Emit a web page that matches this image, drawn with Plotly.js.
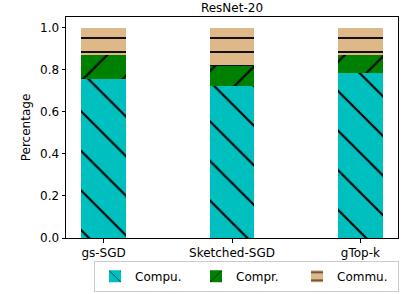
<!DOCTYPE html>
<html><head><meta charset="utf-8">
<script src="https://cdn.plot.ly/plotly-3.0.1.min.js"></script>
<style>html,body{margin:0;padding:0;background:#fff}#c{width:415px;height:294px}</style>
</head><body><div id="c"></div>
<script>
var methods = ["gs-SGD", "Sketched-SGD", "gTop-k"];
var compu = [0.757, 0.722, 0.786];
var compr = [0.114, 0.096, 0.084];
var commu = [0.129, 0.182, 0.130];
var seriesNames = ["Compu.", "Compr.", "Commu."];
var yTicks = [0, 0.2, 0.4, 0.6, 0.8, 1.0];

var font = {family: "DejaVu Sans", size: 12, color: "#000"};
function bar(name, vals, color, shape, size, sol) {
  return {
    type: "bar", name: name, x: methods, y: vals, width: 0.35,
    marker: {color: color, line: {width: 0},
      pattern: {shape: shape, fgcolor: "#000", fgopacity: 1, bgcolor: color, size: size, solidity: sol, fillmode: "overlay"}}
  };
}
var data = [
  bar(seriesNames[0], compu, "#00BFBF", "\\", 28, 0.075),
  bar(seriesNames[1], compr, "#008000", "/", 28, 0.075),
  bar(seriesNames[2], commu, "#DEB887", "-", 14, 0.13)
];
var layout = {
  width: 415, height: 294, barmode: "stack",
  margin: {l: 66, r: 17, t: 17, b: 56, autoexpand: false},
  paper_bgcolor: "#fff", plot_bgcolor: "#fff",
  font: font,
  title: {text: "ResNet-20", font: {family: "DejaVu Sans", size: 12, color: "#000"}, x: 0.5, xref: "paper", y: 0.972, yref: "container", yanchor: "middle"},
  xaxis: {range: [-0.2925, 2.2925], showline: true, mirror: true, linecolor: "#000", linewidth: 1,
    ticks: "outside", ticklen: 3.5, tickcolor: "#000", showgrid: false, zeroline: false, tickfont: font},
  yaxis: {range: [0, 1.05], showline: true, mirror: true, linecolor: "#000", linewidth: 1,
    ticks: "outside", ticklen: 3.5, tickcolor: "#000", showgrid: false, zeroline: false,
    tickvals: yTicks, tickformat: ".1f", tickfont: font,
    title: {text: "Percentage", font: font, standoff: 6}},
  showlegend: true,
  legend: {orientation: "h", xref: "container", yref: "container", x: 0.594, xanchor: "center", y: 0.06, yanchor: "middle",
    entrywidth: 56, entrywidthmode: "pixels",
    bordercolor: "#ccc", borderwidth: 1, bgcolor: "#fff", font: font, traceorder: "normal"}
};
Plotly.newPlot("c", data, layout, {staticPlot: true});
</script></body></html>
